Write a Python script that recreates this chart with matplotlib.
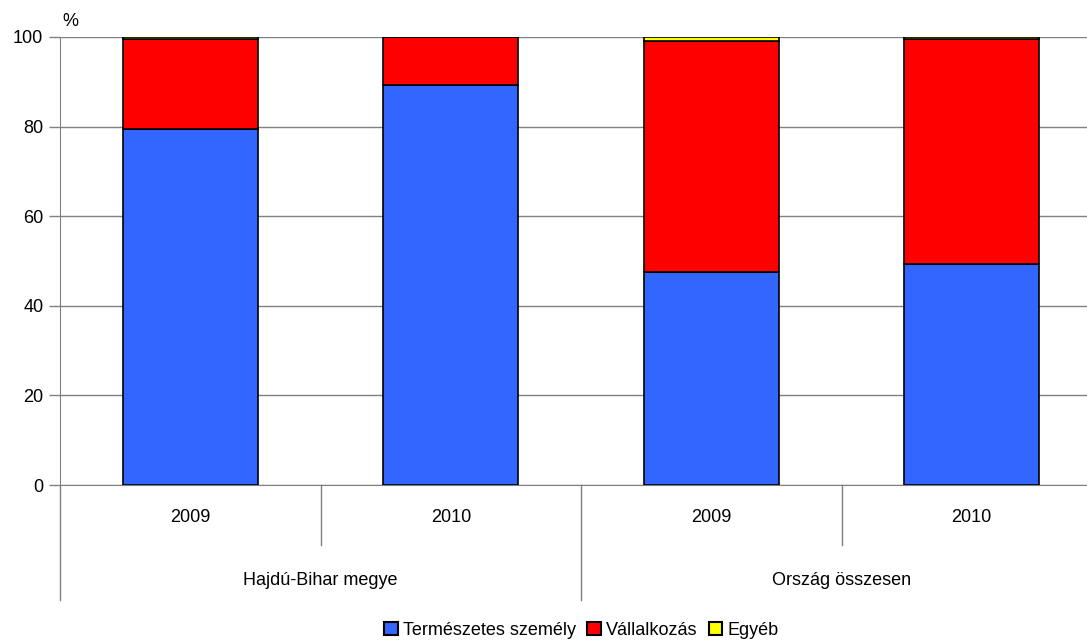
import matplotlib.pyplot as plt
from matplotlib.patches import Patch
from matplotlib.transforms import blended_transform_factory

years = ['2009', '2010', '2009', '2010']
groups = ['Hajdú-Bihar megye', 'Ország összesen']
termeszetes = [79.4, 89.2, 47.5, 49.3]
vallalkozas = [20.2, 10.8, 51.5, 50.3]
egyeb = [0.4, 0.0, 1.0, 0.4]

colors = ['#3366FF', '#FF0000', '#FFFF00']
labels = ['Természetes személy', 'Vállalkozás', 'Egyéb']

plt.rcParams['font.family'] = ['Liberation Sans', 'DejaVu Sans']
fs = 13

fig = plt.figure(figsize=(10.87, 6.41), dpi=100)
ax = fig.add_axes([60 / 1087, 1 - 485 / 641, 1 - 60 / 1087, 448 / 641])

x = list(range(len(years)))
w = 0.52
bottom2 = termeszetes
bottom3 = [a + b for a, b in zip(termeszetes, vallalkozas)]
ax.bar(x, termeszetes, w, color=colors[0], edgecolor='black', linewidth=1.2, zorder=3)
ax.bar(x, vallalkozas, w, bottom=bottom2, color=colors[1], edgecolor='black', linewidth=1.2, zorder=3)
ax.bar(x, egyeb, w, bottom=bottom3, color=colors[2], edgecolor='black', linewidth=1.2, zorder=3)

ax.set_ylim(0, 100)
ax.set_xlim(-0.5, 3.5 - 15 / 260.5)
ax.set_yticks([0, 20, 40, 60, 80, 100])
ax.tick_params(axis='y', labelsize=fs, length=8, color='#808080', width=1, pad=4)
ax.set_xticks([])
ax.yaxis.grid(True, color='#808080', linewidth=1, zorder=0)
for s in ['top', 'right']:
    ax.spines[s].set_visible(False)
ax.spines['left'].set_color('#808080')
ax.spines['bottom'].set_color('#808080')

ax.text(0.002, 1.015, '%', transform=ax.transAxes, fontsize=fs, ha='left', va='bottom')

# multi-level category axis
tr = blended_transform_factory(ax.transData, ax.transAxes)
ax.plot([-0.5, -0.5], [0, -0.257], transform=tr, color='#808080', lw=1, clip_on=False)
ax.plot([0.5, 0.5], [0, -0.134], transform=tr, color='#808080', lw=1, clip_on=False)
ax.plot([1.5, 1.5], [0, -0.257], transform=tr, color='#808080', lw=1, clip_on=False)
ax.plot([2.5, 2.5], [0, -0.134], transform=tr, color='#808080', lw=1, clip_on=False)
for i, yr in enumerate(years):
    ax.text(i, -0.072, yr, transform=tr, ha='center', va='center', fontsize=fs)
for j, g in enumerate(groups):
    ax.text(0.5 + 2 * j, -0.213, g, transform=tr, ha='center', va='center', fontsize=fs)

handles = [Patch(facecolor=c, edgecolor='black', linewidth=1.5) for c in colors]
fig.legend(handles, labels, loc='lower center', bbox_to_anchor=(0.535, -0.022), ncol=3,
           frameon=False, fontsize=fs, handlelength=0.75, handleheight=0.75,
           handletextpad=0.3, columnspacing=0.6)

fig.savefig('out.png', dpi=100)
